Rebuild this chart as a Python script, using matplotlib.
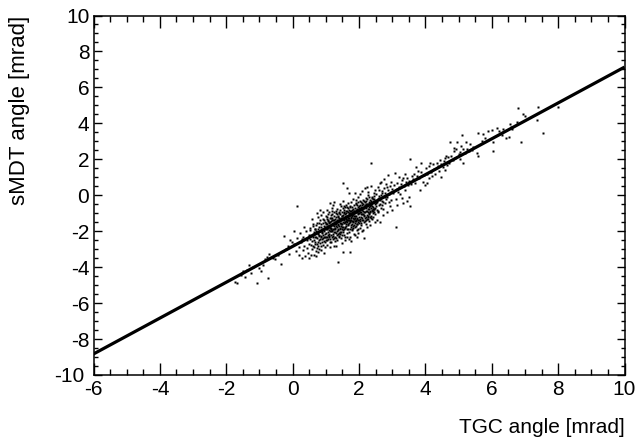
import matplotlib
matplotlib.use("Agg")
import matplotlib.pyplot as plt
from matplotlib.ticker import MultipleLocator
from matplotlib.transforms import ScaledTranslation

# ---- data ----
# events: (TGC angle [mrad], sMDT angle [mrad])
events = [
    # low-left tail
    (-1.74, -4.81), (-1.69, -4.90), (-1.53, -4.34), (-1.49, -4.21), (-1.37, -4.16), (-1.31, -3.88),
    (-1.20, -4.00), (-1.25, -4.30), (-1.08, -4.90), (-0.95, -4.21), (-0.73, -4.62), (-0.82, -3.56),
    (-0.78, -3.45), (-0.70, -3.28), (-0.53, -3.56), (-0.35, -3.84), (-1.55, -4.45), (-1.45, -4.55),
    (-1.00, -4.05), (-0.90, -3.90), (-0.60, -3.50), (-0.45, -3.30), (-0.25, -2.25), (-0.08, -2.49),
    (-0.03, -2.58), (-0.20, -3.00), (-0.10, -3.25), (0.04, -1.99), (0.14, -0.60), (-0.30, -3.10),
    (-0.15, -2.85),
    # 0 .. 0.5
    (0.05, -2.70), (0.10, -3.10), (0.12, -2.40), (0.18, -2.90), (0.20, -3.30), (0.22, -2.10),
    (0.25, -2.60), (0.28, -3.50), (0.30, -2.30), (0.32, -3.05), (0.35, -2.80), (0.37, -3.38),
    (0.40, -2.00), (0.42, -2.50), (0.45, -3.20), (0.48, -2.70), (0.50, -3.50), (0.50, -2.20),
    (0.52, -1.80), (0.65, -3.32), (0.75, -3.14), (0.33, -1.75), (0.44, -2.95), (0.27, -2.45),
    # 0.5 .. 1.0
    (0.51, -2.45), (0.53, -1.95), (0.54, -2.75), (0.56, -2.20), (0.57, -3.00), (0.59, -2.55),
    (0.60, -1.70), (0.61, -2.35), (0.63, -2.90), (0.64, -2.05), (0.66, -2.60), (0.67, -1.85),
    (0.68, -2.30), (0.70, -3.10), (0.71, -2.00), (0.72, -2.70), (0.73, -1.55), (0.74, -2.40),
    (0.76, -2.15), (0.77, -2.85), (0.78, -1.75), (0.79, -2.50), (0.80, -2.25), (0.81, -1.40),
    (0.82, -0.82), (0.83, -2.65), (0.84, -1.95), (0.85, -2.35), (0.86, -1.60), (0.87, -3.05),
    (0.88, -2.10), (0.89, -2.45), (0.90, -1.85), (0.91, -2.75), (0.92, -1.30), (0.93, -2.20),
    (0.94, -2.55), (0.95, -1.70), (0.96, -2.00), (0.97, -2.90), (0.98, -1.50), (0.99, -2.30),
    (0.72, -1.00), (0.62, -1.60), (0.55, -3.30), (0.69, -3.40), (0.58, -1.30), (0.76, -1.20),
    (0.95, -3.20), (0.85, -1.10),
    (0.62, -2.15), (0.64, -2.50), (0.66, -1.90), (0.68, -2.70), (0.70, -2.35), (0.71, -1.65),
    (0.73, -2.95), (0.74, -2.05), (0.76, -2.60), (0.77, -1.90), (0.79, -2.20), (0.80, -1.55),
    (0.82, -2.45), (0.83, -2.00), (0.84, -2.80), (0.86, -2.25), (0.87, -1.75), (0.88, -2.60),
    (0.90, -2.05), (0.91, -1.55), (0.92, -2.40), (0.94, -1.85), (0.95, -2.30), (0.96, -1.35),
    (0.97, -2.15), (0.98, -2.60), (0.99, -1.75), (0.60, -2.80), (0.78, -3.00), (0.93, -0.95),
    # 1.0 .. 1.5
    (1.00, -2.10), (1.01, -1.60), (1.02, -2.50), (1.03, -1.30), (1.04, -1.90), (1.05, -2.75),
    (1.06, -1.45), (1.07, -2.20), (1.08, -1.05), (1.09, -1.75), (1.10, -2.35), (1.11, -1.55),
    (1.12, -2.00), (1.13, -0.45), (1.14, -2.60), (1.15, -1.25), (1.16, -1.85), (1.17, -2.20),
    (1.18, -1.40), (1.19, -0.90), (1.20, -1.95), (1.21, -2.45), (1.22, -0.54), (1.23, -1.65),
    (1.24, -2.05), (1.25, -1.15), (1.26, -2.80), (1.27, -1.50), (1.28, -1.80), (1.29, -2.30),
    (1.30, -1.00), (1.31, -1.70), (1.32, -2.10), (1.33, -1.35), (1.34, -2.50), (1.35, -0.75),
    (1.36, -1.60), (1.37, -1.95), (1.38, -1.20), (1.39, -2.25), (1.40, -1.45), (1.41, -0.95),
    (1.42, -1.80), (1.43, -2.05), (1.44, -1.30), (1.45, -2.40), (1.46, -1.55), (1.47, -0.60),
    (1.48, -1.15), (1.49, -1.90), (1.02, -1.85), (1.05, -1.20), (1.08, -2.45), (1.11, -1.95),
    (1.14, -1.50), (1.17, -2.60), (1.20, -1.25), (1.23, -2.15), (1.26, -1.40), (1.29, -1.60),
    (1.32, -0.85), (1.35, -2.00), (1.38, -1.65), (1.41, -2.35), (1.44, -1.05), (1.47, -1.70),
    (1.03, -2.30), (1.07, -1.70), (1.10, -0.95), (1.13, -1.80), (1.16, -1.10), (1.19, -2.00),
    (1.22, -1.55), (1.25, -1.85), (1.28, -2.55), (1.31, -1.20), (1.34, -1.75), (1.37, -1.40),
    (1.40, -2.10), (1.43, -1.55), (1.46, -1.25), (1.49, -2.20), (1.12, -2.90), (1.18, -0.70),
    (1.24, -0.35), (1.30, -2.85), (1.36, -3.69), (1.42, -0.50), (1.48, -2.65), (1.04, -0.80),
    (1.00, -1.55), (1.01, -2.30), (1.02, -1.15), (1.03, -1.75), (1.04, -2.50), (1.05, -1.60),
    (1.06, -2.05), (1.07, -1.35), (1.08, -1.80), (1.09, -2.25), (1.10, -1.50), (1.11, -2.15),
    (1.12, -1.25), (1.13, -2.45), (1.14, -1.70), (1.15, -2.00), (1.16, -1.45), (1.17, -1.80),
    (1.18, -2.30), (1.19, -1.60), (1.20, -1.05), (1.21, -1.85), (1.22, -2.25), (1.23, -1.40),
    (1.24, -1.70), (1.25, -2.40), (1.26, -0.95), (1.27, -2.05), (1.28, -1.30), (1.29, -1.90),
    (1.30, -1.50), (1.31, -2.40), (1.32, -1.60), (1.33, -1.05), (1.34, -2.20), (1.35, -1.45),
    (1.36, -1.15), (1.37, -2.15), (1.38, -1.85), (1.39, -1.00), (1.40, -1.70), (1.41, -1.25),
    (1.42, -2.15), (1.43, -0.80), (1.44, -1.90), (1.45, -1.60), (1.46, -2.05), (1.47, -1.35),
    (1.48, -1.75), (1.49, -0.95),
    # 1.5 .. 2.0
    (1.50, -1.60), (1.51, 0.70), (1.52, -1.10), (1.53, -2.03), (1.54, -1.35), (1.55, -0.80),
    (1.56, -1.85), (1.57, -1.20), (1.58, -2.30), (1.59, -1.50), (1.60, -0.55), (1.61, -1.70),
    (1.62, -1.00), (1.63, -2.10), (1.64, -1.40), (1.65, 0.39), (1.66, -1.25), (1.67, -1.90),
    (1.68, -0.70), (1.69, -1.55), (1.70, -1.10), (1.71, -2.45), (1.72, -1.35), (1.73, -2.30),
    (1.74, -0.90), (1.75, -1.65), (1.76, -0.35), (1.77, -1.20), (1.78, -1.95), (1.79, -1.45),
    (1.80, -0.65), (1.81, -1.05), (1.82, -1.80), (1.83, -0.20), (1.84, -1.30), (1.85, -2.15),
    (1.86, -0.85), (1.87, -1.55), (1.88, -2.21), (1.89, -1.00), (1.90, -0.45), (1.91, -1.70),
    (1.92, -1.15), (1.93, -0.75), (1.94, -1.95), (1.95, -1.25), (1.96, -0.10), (1.97, -1.50),
    (1.98, -2.12), (1.99, -0.90), (1.51, -1.30), (1.54, -0.95), (1.57, -1.75), (1.60, -1.45),
    (1.63, -0.85), (1.66, -1.60), (1.69, -1.00), (1.72, -0.60), (1.75, -1.25), (1.78, -0.95),
    (1.81, -1.50), (1.84, -0.55), (1.87, -1.15), (1.90, -1.35), (1.93, -1.60), (1.96, -0.65),
    (1.99, -1.20), (1.52, -1.95), (1.55, -1.55), (1.58, -0.65), (1.61, -1.15), (1.64, -1.85),
    (1.67, -0.45), (1.70, -1.40), (1.73, -1.00), (1.76, -1.75), (1.79, -0.80), (1.82, -1.25),
    (1.85, -0.95), (1.88, -1.45), (1.91, -0.25), (1.94, -0.95), (1.97, -1.85), (1.53, -0.30),
    (1.59, -2.50), (1.65, -2.35), (1.71, 0.10), (1.77, -2.55), (1.83, -1.70), (1.89, 0.15),
    (1.95, -2.35), (1.62, -1.30), (1.68, -1.15), (1.74, -1.50), (1.80, -1.10), (1.86, -1.30),
    (1.92, -0.50), (1.98, -1.00), (1.56, -1.00), (1.73, -3.14), (1.51, -3.14),
    (1.50, -1.15), (1.51, -1.75), (1.52, -0.70), (1.53, -1.50), (1.54, -2.20), (1.55, -1.30),
    (1.56, -0.60), (1.57, -1.50), (1.58, -1.05), (1.59, -1.80), (1.60, -1.20), (1.61, -0.90),
    (1.62, -1.60), (1.63, -1.35), (1.64, -0.65), (1.65, -1.50), (1.66, -0.95), (1.67, -1.65),
    (1.68, -1.35), (1.69, -2.05), (1.70, -0.80), (1.71, -1.25), (1.72, -1.85), (1.73, -1.45),
    (1.74, -0.65), (1.75, -1.05), (1.76, -1.40), (1.77, -0.85), (1.78, -1.60), (1.79, -1.15),
    (1.80, -1.85), (1.81, -0.75), (1.82, -1.05), (1.83, -1.45), (1.84, -0.90), (1.85, -1.65),
    (1.86, -1.15), (1.87, -0.70), (1.88, -1.25), (1.89, -1.75), (1.90, -0.95), (1.91, -1.45),
    (1.92, -0.80), (1.93, -1.30), (1.94, -0.55), (1.95, -1.60), (1.96, -1.05), (1.97, -0.40),
    (1.98, -1.40), (1.99, -0.70),
    # 2.0 .. 2.5
    (2.00, -1.35), (2.01, -0.60), (2.02, -1.80), (2.03, -0.95), (2.04, 0.05), (2.05, -1.20),
    (2.06, -0.40), (2.07, -1.55), (2.08, -0.80), (2.09, -2.00), (2.10, -1.05), (2.11, -0.25),
    (2.12, -1.40), (2.13, -1.93), (2.14, -0.70), (2.15, -2.39), (2.16, -0.95), (2.17, -1.25),
    (2.18, 0.39), (2.19, -0.55), (2.20, -1.60), (2.21, -0.85), (2.22, -0.15), (2.23, -1.10),
    (2.24, -1.75), (2.25, -0.50), (2.26, -1.30), (2.27, -0.75), (2.28, 0.20), (2.29, -1.00),
    (2.30, -1.45), (2.31, -0.35), (2.32, -0.90), (2.33, -1.65), (2.34, -0.60), (2.35, 0.50),
    (2.36, 1.81), (2.37, -1.15), (2.38, -0.45), (2.39, -0.80), (2.40, -1.30), (2.41, -0.20),
    (2.42, -0.65), (2.43, -1.19), (2.44, 0.10), (2.45, -0.95), (2.46, -0.40), (2.47, -1.50),
    (2.48, -0.70), (2.49, 0.30), (2.02, -0.30), (2.06, -1.05), (2.10, -0.55), (2.14, -1.15),
    (2.18, -0.35), (2.22, -1.35), (2.26, 0.00), (2.30, -0.65), (2.34, -1.20), (2.38, -0.10),
    (2.42, -0.90), (2.46, -0.05), (2.04, -1.45), (2.12, -0.70), (2.20, -0.30), (2.28, -1.20),
    (2.36, -0.55), (2.44, -0.75), (2.08, 0.25), (2.24, 0.45),
    (2.00, -1.00), (2.01, -1.55), (2.02, -0.75), (2.03, -1.30), (2.04, -0.55), (2.05, -0.95),
    (2.06, -1.65), (2.07, -0.65), (2.08, -1.25), (2.09, -0.45), (2.10, -1.35), (2.11, -0.85),
    (2.12, -1.05), (2.13, -0.50), (2.14, -1.50), (2.15, -0.30), (2.16, -1.10), (2.17, -0.60),
    (2.18, -1.45), (2.19, -0.95), (2.20, -0.70), (2.21, -1.20), (2.22, -0.50), (2.23, -0.85),
    (2.24, -1.30), (2.25, -0.20), (2.26, -0.95), (2.27, -1.15), (2.28, -0.50), (2.29, -0.75),
    (2.30, -0.10), (2.31, -1.05), (2.32, -0.45), (2.33, -0.25), (2.34, -0.95), (2.35, -0.70),
    (2.36, -1.25), (2.37, -0.30), (2.38, -0.85), (2.39, -0.15), (2.40, -0.60), (2.41, -1.00),
    (2.42, -0.35), (2.43, -0.75), (2.44, -0.40), (2.45, -0.20), (2.46, -0.75), (2.47, -0.30),
    (2.48, -1.05), (2.49, -0.50),
    # 2.5 .. 3.0
    (2.50, -0.60), (2.52, 0.05), (2.53, -1.37), (2.55, -0.35), (2.57, 0.45), (2.58, -0.85),
    (2.60, -0.15), (2.62, 0.70), (2.63, -1.47), (2.64, -0.50), (2.66, 0.76), (2.67, 0.00),
    (2.68, -0.30), (2.70, 0.25), (2.71, -0.75), (2.73, -1.10), (2.74, -0.05), (2.76, 0.40),
    (2.77, -0.45), (2.79, 0.15), (2.80, -0.20), (2.82, 0.60), (2.83, -0.91), (2.85, -0.10),
    (2.86, 1.13), (2.88, 0.30), (2.90, -0.40), (2.91, 0.05), (2.93, 0.50), (2.95, -0.25),
    (2.96, 0.20), (2.98, -0.82), (2.99, 0.35), (2.56, -0.95), (2.61, 0.30), (2.69, -0.55),
    (2.75, 0.90), (2.84, 0.45), (2.92, -0.60), (2.97, 0.75),
    (2.52, -0.45), (2.54, -0.80), (2.56, -0.20), (2.59, -0.55), (2.61, -0.05), (2.64, -0.25),
    (2.66, -0.70), (2.69, 0.10), (2.72, -0.35), (2.78, -0.10),
    # 3.0 .. 3.6
    (3.02, 0.10), (3.05, 0.55), (3.08, 1.22), (3.10, -0.20), (3.11, -1.78), (3.13, 0.35),
    (3.14, -0.54), (3.16, 0.70), (3.19, 0.20), (3.21, 0.45), (3.24, 0.05), (3.26, 0.60),
    (3.29, -0.17), (3.30, 0.85), (3.32, -0.45), (3.35, 0.50), (3.38, 0.30), (3.41, 0.75),
    (3.44, -0.32), (3.46, 0.95), (3.49, 0.55), (3.52, 0.80), (3.54, -0.60), (3.54, 2.00),
    (3.57, 0.65), (3.59, 1.05), (3.20, 1.00), (3.40, 1.20), (3.50, -0.10), (3.33, 0.95),
    # 3.6 .. 4.5
    (3.62, 0.90), (3.66, 1.20), (3.70, 0.70), (3.74, 1.05), (3.78, 1.35), (3.82, 0.95),
    (3.84, 0.29), (3.86, 1.78), (3.88, 1.30), (3.92, 0.76), (3.95, 1.10), (3.99, 0.57),
    (4.01, 1.50), (4.04, 1.20), (4.06, 0.70), (4.10, 1.60), (4.14, 1.81), (4.17, 1.30),
    (4.20, 1.05), (4.24, 1.74), (4.27, 1.45), (4.30, 1.20), (4.34, 1.81), (4.37, 1.60),
    (4.40, 1.35), (4.44, 1.96), (4.46, 1.04), (4.48, 1.75), (3.72, 1.55), (4.12, 0.95),
    # 4.5 .. 5.5
    (4.52, 1.55), (4.56, 1.90), (4.60, 2.05), (4.62, 2.19), (4.65, 1.70), (4.69, 2.11),
    (4.72, 1.80), (4.74, 2.98), (4.78, 2.20), (4.82, 1.95), (4.86, 2.45), (4.90, 2.10),
    (4.93, 2.60), (4.96, 2.94), (5.00, 2.30), (5.04, 2.00), (5.08, 2.75), (5.11, 3.36),
    (5.14, 2.55), (5.18, 2.35), (5.22, 2.94), (5.26, 2.60), (5.30, 2.45), (5.34, 2.85),
    (5.40, 2.50), (5.45, 2.70), (4.58, 1.40), (5.12, 1.81), (4.85, 2.65), (5.05, 2.40),
    # 5.5 .. 8
    (5.55, 2.37), (5.60, 2.19), (5.60, 3.48), (5.70, 3.00), (5.80, 3.20), (5.90, 3.58),
    (6.00, 3.63), (6.03, 2.98), (6.03, 2.45), (6.15, 3.73), (6.23, 3.60), (6.30, 3.35),
    (6.35, 3.70), (6.43, 3.17), (6.52, 3.26), (6.55, 3.95), (6.57, 3.82), (6.62, 3.70),
    (6.75, 4.10), (6.80, 4.87), (6.87, 2.98), (6.95, 4.52), (7.00, 4.41), (7.37, 4.19),
    (7.40, 4.93), (7.53, 3.48), (8.00, 4.90), (5.75, 3.40),
]
tgc_angle = [e[0] for e in events]
smdt_angle = [e[1] for e in events]

# straight-line fit drawn across the full x range
fit_x = [-6.0, 10.0]
fit_y = [-8.83, 7.13]

x_label = "TGC angle [mrad]"
y_label = "sMDT angle [mrad]"

# ---- style ----
plt.rcParams['font.family'] = ['Liberation Sans', 'DejaVu Sans']
plt.rcParams['axes.unicode_minus'] = False

W, H = 636, 442
fig = plt.figure(figsize=(W / 100, H / 100), dpi=100)
left, right, top, bottom = 93.5, 624.5, 15.5, 375.0
ax = fig.add_axes([left / W, 1 - bottom / H, (right - left) / W, (bottom - top) / H])

ax.plot(tgc_angle, smdt_angle, ls='none', marker='s', ms=1.7,
        mfc='black', mec='none', zorder=2)
ax.plot(fit_x, fit_y, color='black', lw=2.3, solid_capstyle='butt', zorder=3)

ax.set_xlim(-6, 10)
ax.set_ylim(-10, 10)
ax.xaxis.set_major_locator(MultipleLocator(2))
ax.xaxis.set_minor_locator(MultipleLocator(0.5))
ax.yaxis.set_major_locator(MultipleLocator(2))
ax.yaxis.set_minor_locator(MultipleLocator(0.5))

for s in ax.spines.values():
    s.set_linewidth(1.1)

ax.tick_params(axis='both', which='both', direction='in', top=True, right=True,
               width=1.0, labelsize=15, colors='black')
ax.tick_params(axis='x', which='major', length=8.5, pad=3.5)
ax.tick_params(axis='x', which='minor', length=4.3)
ax.tick_params(axis='y', which='major', length=5.8, pad=3)
ax.tick_params(axis='y', which='minor', length=3.0)

ax.set_xlabel(x_label, fontsize=15, loc='right', labelpad=14)
ax.set_ylabel(y_label, fontsize=16, loc='top', labelpad=17)

# ROOT shifts the lowest y label left so it does not collide with the first x label
fig.canvas.draw()
for lbl in ax.get_yticklabels():
    if lbl.get_text() == '-10':
        lbl.set_transform(lbl.get_transform() + ScaledTranslation(-5 / 100, 0, fig.dpi_scale_trans))

fig.savefig("out.png", dpi=100, facecolor='white')
